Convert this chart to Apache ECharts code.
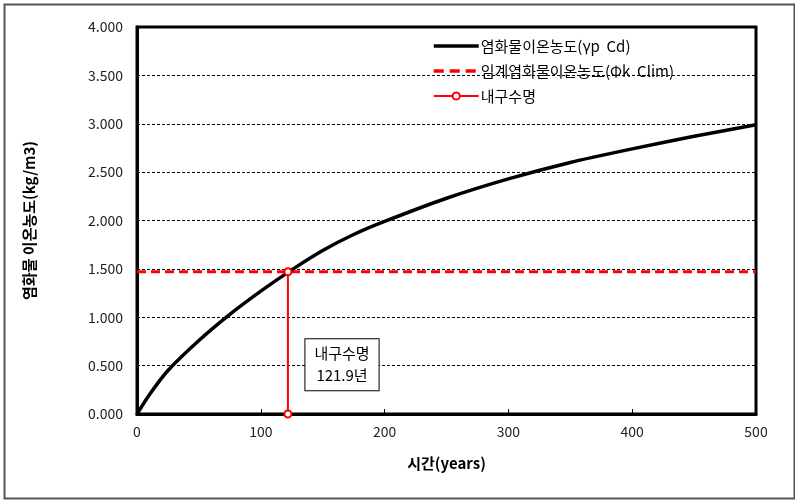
<!DOCTYPE html>
<html><head><meta charset="utf-8">
<script src="https://cdn.jsdelivr.net/npm/echarts@6/dist/echarts.min.js"></script>
<style>html,body{margin:0;padding:0;background:#fff}#c{width:795px;height:500px}</style>
</head><body><div id="c"></div>
<script>
const seriesNames = ['염화물이온농도(γp  Cd)', '임계염화물이온농도(Φk  Clim)', '내구수명'];
const years = [0, 10, 25, 50, 75, 100, 125, 150, 175, 200, 250, 300, 350, 400, 450, 500];
const chloride = [0, 0.2, 0.45, 0.76, 1.03, 1.27, 1.49, 1.69, 1.855, 1.99, 2.23, 2.43, 2.6, 2.74, 2.87, 2.99];
const criticalLevel = 1.47;
const serviceLife = 121.9;
const xRange = [0, 500];
const annotationText = ['내구수명', '121.9년'];

const FONT = '"Noto Sans CJK KR", "DejaVu Sans", sans-serif';
const chart = echarts.init(document.getElementById('c'));
chart.setOption({
  animation: false,
  backgroundColor: '#fff',
  textStyle: { fontFamily: FONT },
  graphic: [{
    type: 'rect', left: 2, top: 2, z: -10,
    shape: { width: 790, height: 494 },
    style: { fill: 'none', stroke: '#555', lineWidth: 2 }
  }],
  grid: { left: 137, right: 39, top: 27, bottom: 86, show: true, borderColor: '#000', borderWidth: 3, backgroundColor: 'transparent' },
  legend: {
    orient: 'vertical', left: 427, top: 33, itemGap: 9,
    itemWidth: 45, itemHeight: 9,
    data: [
      { name: seriesNames[0], itemStyle: { opacity: 0 }, lineStyle: { width: 3.5, color: '#000' } },
      { name: seriesNames[1], itemStyle: { opacity: 0 }, lineStyle: { width: 3.5, color: '#ff0000', type: [10, 6] } },
      { name: seriesNames[2], lineStyle: { width: 2, color: '#ff0000' } }
    ],
    textStyle: { fontFamily: FONT, fontSize: 15, lineHeight: 16, color: '#000', padding: [0, 0, 0, -3] }
  },
  xAxis: {
    type: 'value', min: 0, max: 500, interval: 100,
    name: '시간(years)', nameLocation: 'middle', nameGap: 42,
    nameTextStyle: { fontFamily: FONT, fontSize: 15, fontWeight: 'bold', color: '#000' },
    axisLine: { show: true, lineStyle: { color: '#000', width: 3 } },
    axisTick: { show: true, inside: true, length: 5, lineStyle: { color: '#000', width: 1 } },
    axisLabel: { fontFamily: FONT, fontSize: 14, color: '#222', margin: 11 },
    splitLine: { show: false }
  },
  yAxis: {
    type: 'value', min: 0, max: 4, interval: 0.5,
    name: '염화물 이온농도(kg/m3)', nameLocation: 'middle', nameGap: 100, nameRotate: 90,
    nameTextStyle: { fontFamily: FONT, fontSize: 15, fontWeight: 'bold', color: '#000' },
    axisLine: { show: true, lineStyle: { color: '#000', width: 3 } },
    axisTick: { show: false },
    axisLabel: { fontFamily: FONT, fontSize: 14, color: '#222', margin: 14, formatter: v => v.toFixed(3) },
    splitLine: { show: true, lineStyle: { color: '#000', width: 1, type: [3, 2] } }
  },
  series: [
    {
      name: seriesNames[1], type: 'line', symbol: 'none', z: 2,
      data: [[xRange[0], criticalLevel], [xRange[1], criticalLevel]],
      lineStyle: { color: '#ff0000', width: 3, type: [9, 5] },
      itemStyle: { color: '#ff0000' }
    },
    {
      name: seriesNames[0], type: 'line', symbol: 'none', smooth: 0.25, z: 3,
      data: years.map((t, i) => [t, chloride[i]]),
      lineStyle: { color: '#000', width: 3.5 },
      itemStyle: { color: '#000' }
    },
    {
      name: seriesNames[2], type: 'line', symbol: 'emptyCircle', symbolSize: 7, z: 4,
      data: [[serviceLife, 0], [serviceLife, criticalLevel]],
      lineStyle: { color: '#ff0000', width: 2 },
      itemStyle: { color: '#ff0000', borderWidth: 1 },
      markPoint: {
        symbol: 'rect', symbolSize: 0,
        data: [{ coord: [165.6, 0.51] }],
        label: {
          show: true, position: 'inside',
          formatter: annotationText.join('\n'),
          fontFamily: FONT, fontSize: 15, lineHeight: 22, color: '#000',
          backgroundColor: '#fff', borderColor: '#000', borderWidth: 1,
          padding: [4, 9, 3, 9], align: 'center'
        }
      }
    }
  ]
});
</script></body></html>
